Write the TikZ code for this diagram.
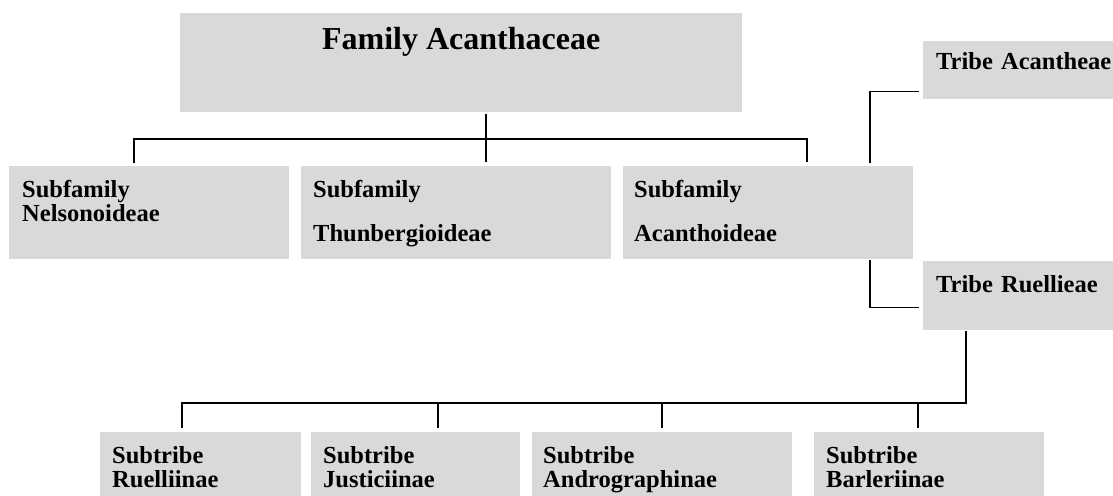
\documentclass[tikz,border=0pt]{standalone}
\usepackage{fontspec}
\setmainfont{Liberation Serif}
\definecolor{boxgray}{HTML}{D9D9D9}
\tikzset{
  taxbox/.style={fill=boxgray, inner sep=0pt, anchor=north west},
  taxtext/.style={anchor=base west, inner sep=0pt, align=left, text width=250pt,
    font=\fontsize{24.5}{24}\selectfont\bfseries},
  famtext/.style={anchor=base, inner sep=0pt, font=\fontsize{32}{36}\selectfont\bfseries},
  conn/.style={line width=1.5pt, shorten >=4pt},
}
\begin{document}
\begin{tikzpicture}[x=1pt, y=-1pt]
  \useasboundingbox (0,0) rectangle (1113,495);
  \clip (0,0) rectangle (1113,495);

  % family and subfamilies
  \node[taxbox, minimum width=562pt, minimum height=99pt] (fam) at (180,13) {};
  \node[taxbox, minimum width=280pt, minimum height=93pt] (nel) at (9,166) {};
  \node[taxbox, minimum width=310pt, minimum height=93pt] (thu) at (301,166) {};
  \node[taxbox, minimum width=290pt, minimum height=93pt] (aca) at (623,166) {};

  % tribes
  \node[taxbox, minimum width=200pt, minimum height=58pt] (acn) at (923,41) {};
  \node[taxbox, minimum width=200pt, minimum height=69pt] (rue) at (923,261) {};

  % subtribes
  \node[taxbox, minimum width=201pt, minimum height=80pt] (rui) at (100,432) {};
  \node[taxbox, minimum width=209pt, minimum height=80pt] (jus) at (311,432) {};
  \node[taxbox, minimum width=260pt, minimum height=80pt] (and) at (532,432) {};
  \node[taxbox, minimum width=230pt, minimum height=80pt] (bar) at (814,432) {};

  % texts
  \node[famtext] (famT) at ([yshift=-36pt]fam.north) {Family Acanthaceae};
  \node[taxtext] (nelT) at ([xshift=13pt,yshift=-31pt]nel.north west) {Subfamily\\Nelsonoideae};
  \node[taxtext] (thuT) at ([xshift=12pt,yshift=-31pt]thu.north west) {Subfamily\\[20pt]Thunbergioideae};
  \node[taxtext] (acaT) at ([xshift=11pt,yshift=-31pt]aca.north west) {Subfamily\\[20pt]Acanthoideae};
  \node[taxtext] (acnT) at ([xshift=13pt,yshift=-29pt]acn.north west) {Tribe Acantheae};
  \node[taxtext] (rueT) at ([xshift=13pt,yshift=-31pt]rue.north west) {Tribe Ruellieae};
  \node[taxtext] (ruiT) at ([xshift=12pt,yshift=-31pt]rui.north west) {Subtribe\\Ruelliinae};
  \node[taxtext] (jusT) at ([xshift=12pt,yshift=-31pt]jus.north west) {Subtribe\\Justiciinae};
  \node[taxtext] (andT) at ([xshift=11pt,yshift=-31pt]and.north west) {Subtribe\\Andrographinae};
  \node[taxtext] (barT) at ([xshift=12pt,yshift=-31pt]bar.north west) {Subtribe\\Barleriinae};

  % connector points
  \coordinate (famBus) at (0,139);
  \coordinate (subBus) at (0,403);
  \coordinate (nelIn) at ([xshift=125pt]nel.north west);
  \coordinate (thuIn) at ([xshift=185pt]thu.north west);
  \coordinate (acaIn) at ([xshift=184pt]aca.north west);
  \coordinate (acaUp) at ([xshift=247pt]aca.north west);
  \coordinate (acaDn) at ([xshift=247pt]aca.south west);
  \coordinate (acnIn) at ([yshift=8pt]acn.south west);
  \coordinate (rueIn) at ([yshift=23pt]rue.south west);
  \coordinate (rueOut) at ([xshift=43pt]rue.south west);
  \coordinate (ruiIn) at ([xshift=82pt]rui.north west);
  \coordinate (jusIn) at ([xshift=127pt]jus.north west);
  \coordinate (andIn) at ([xshift=130pt]and.north west);
  \coordinate (barIn) at ([xshift=104pt]bar.north west);

  % connectors
  \draw[conn, shorten <=2pt] (fam.south -| thuIn) -- (thuIn);
  \draw[conn, shorten <=3pt] (nelIn) -- (nelIn |- famBus) -- (acaIn |- famBus) -- (acaIn);
  \draw[conn, shorten <=3pt] (acaUp) |- (acnIn);
  \draw[conn, shorten <=1pt] (acaDn) |- (rueIn);
  \draw[conn, shorten <=1pt] (rueOut) -- (rueOut |- subBus) -- (ruiIn |- subBus) -- (ruiIn);
  \foreach \st in {jusIn, andIn, barIn}
    \draw[conn] (\st |- subBus) -- (\st);
\end{tikzpicture}
\end{document}
